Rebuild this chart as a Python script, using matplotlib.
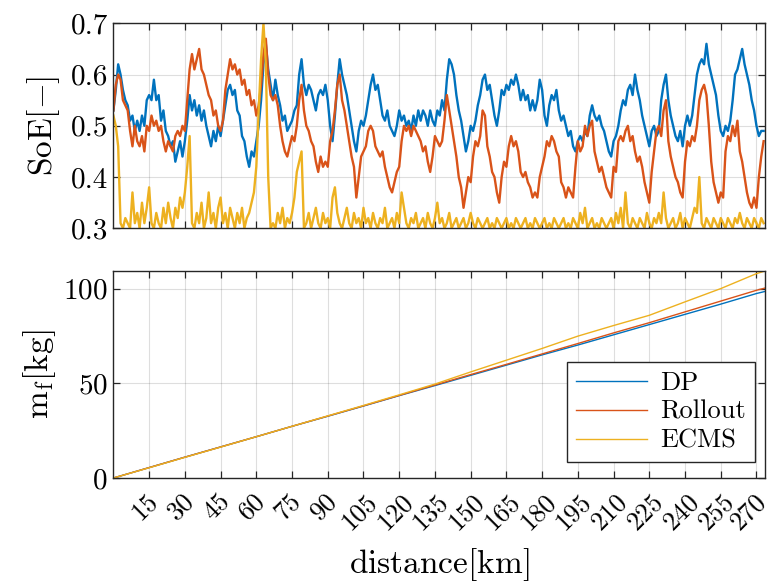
import matplotlib
matplotlib.use("Agg")
import matplotlib.pyplot as plt
import matplotlib.transforms as mtransforms
import numpy as np

plt.rcParams['font.family'] = 'cmr10'
plt.rcParams['mathtext.fontset'] = 'cm'
plt.rcParams['axes.formatter.use_mathtext'] = True

# distance grid for SoE traces (1 km steps)
dist_km = np.arange(0, 274)

soe_dp = [
    0.53, 0.57, 0.62, 0.60, 0.57, 0.55, 0.54, 0.51, 0.52, 0.49,
    0.51, 0.49, 0.52, 0.50, 0.55, 0.56, 0.55, 0.59, 0.55, 0.56,
    0.51, 0.53, 0.49, 0.48, 0.46, 0.47, 0.43, 0.45, 0.47, 0.44,
    0.47, 0.51, 0.56, 0.53, 0.55, 0.52, 0.54, 0.51, 0.53, 0.50,
    0.48, 0.46, 0.49, 0.47, 0.50, 0.48, 0.51, 0.54, 0.57, 0.58,
    0.56, 0.57, 0.53, 0.52, 0.48, 0.47, 0.44, 0.42, 0.45, 0.44,
    0.47, 0.50, 0.55, 0.62, 0.66, 0.61, 0.58, 0.55, 0.59, 0.56,
    0.54, 0.51, 0.52, 0.49, 0.50, 0.51, 0.53, 0.54, 0.60, 0.63,
    0.58, 0.56, 0.58, 0.57, 0.55, 0.53, 0.56, 0.57, 0.56, 0.58,
    0.55, 0.50, 0.47, 0.52, 0.58, 0.63, 0.60, 0.58, 0.56, 0.53,
    0.50, 0.47, 0.45, 0.49, 0.51, 0.50, 0.52, 0.55, 0.58, 0.60,
    0.57, 0.58, 0.55, 0.52, 0.51, 0.53, 0.50, 0.49, 0.48, 0.50,
    0.53, 0.51, 0.52, 0.50, 0.51, 0.49, 0.52, 0.50, 0.53, 0.51,
    0.53, 0.52, 0.50, 0.53, 0.51, 0.50, 0.53, 0.52, 0.55, 0.53,
    0.59, 0.63, 0.62, 0.60, 0.56, 0.53, 0.51, 0.48, 0.45, 0.47,
    0.50, 0.49, 0.51, 0.54, 0.56, 0.59, 0.60, 0.57, 0.58, 0.55,
    0.52, 0.50, 0.53, 0.57, 0.56, 0.58, 0.57, 0.59, 0.58, 0.60,
    0.58, 0.55, 0.57, 0.55, 0.56, 0.53, 0.55, 0.53, 0.55, 0.59,
    0.57, 0.52, 0.50, 0.54, 0.56, 0.55, 0.57, 0.53, 0.51, 0.52,
    0.50, 0.48, 0.49, 0.46, 0.45, 0.47, 0.48, 0.47, 0.49, 0.48,
    0.52, 0.54, 0.52, 0.51, 0.52, 0.50, 0.49, 0.47, 0.45, 0.44,
    0.47, 0.48, 0.50, 0.53, 0.55, 0.54, 0.57, 0.58, 0.56, 0.60,
    0.57, 0.55, 0.52, 0.50, 0.48, 0.46, 0.49, 0.50, 0.48, 0.49,
    0.55, 0.58, 0.60, 0.55, 0.52, 0.50, 0.48, 0.47, 0.49, 0.46,
    0.50, 0.52, 0.50, 0.52, 0.56, 0.60, 0.62, 0.63, 0.62, 0.66,
    0.62, 0.60, 0.58, 0.56, 0.52, 0.49, 0.48, 0.50, 0.49, 0.51,
    0.55, 0.60, 0.61, 0.63, 0.65, 0.62, 0.60, 0.58, 0.55, 0.53,
    0.50, 0.48, 0.49, 0.49,
]

soe_rollout = [
    0.53, 0.58, 0.60, 0.59, 0.55, 0.54, 0.53, 0.49, 0.46, 0.50,
    0.47, 0.46, 0.48, 0.45, 0.50, 0.49, 0.52, 0.50, 0.51, 0.49,
    0.50, 0.47, 0.45, 0.47, 0.46, 0.45, 0.48, 0.49, 0.48, 0.50,
    0.49, 0.55, 0.61, 0.64, 0.61, 0.63, 0.65, 0.61, 0.60, 0.58,
    0.56, 0.55, 0.52, 0.53, 0.50, 0.49, 0.51, 0.57, 0.60, 0.63,
    0.61, 0.62, 0.60, 0.61, 0.58, 0.59, 0.56, 0.57, 0.54, 0.55,
    0.52, 0.54, 0.58, 0.64, 0.67, 0.60, 0.56, 0.55, 0.56, 0.54,
    0.50, 0.47, 0.45, 0.44, 0.46, 0.48, 0.47, 0.50, 0.55, 0.58,
    0.53, 0.50, 0.49, 0.47, 0.46, 0.43, 0.41, 0.44, 0.42, 0.43,
    0.42, 0.47, 0.49, 0.53, 0.58, 0.60, 0.55, 0.53, 0.50, 0.47,
    0.44, 0.42, 0.36, 0.40, 0.44, 0.45, 0.46, 0.49, 0.50, 0.49,
    0.46, 0.45, 0.44, 0.45, 0.42, 0.40, 0.38, 0.37, 0.39, 0.41,
    0.42, 0.47, 0.50, 0.49, 0.50, 0.48, 0.50, 0.49, 0.48, 0.47,
    0.45, 0.46, 0.43, 0.41, 0.44, 0.48, 0.47, 0.46, 0.47, 0.51,
    0.56, 0.53, 0.50, 0.47, 0.44, 0.40, 0.38, 0.34, 0.37, 0.40,
    0.39, 0.44, 0.47, 0.46, 0.48, 0.53, 0.52, 0.46, 0.44, 0.41,
    0.40, 0.37, 0.35, 0.40, 0.43, 0.42, 0.46, 0.48, 0.46, 0.47,
    0.45, 0.41, 0.40, 0.41, 0.39, 0.38, 0.36, 0.37, 0.36, 0.40,
    0.42, 0.44, 0.47, 0.46, 0.48, 0.47, 0.45, 0.44, 0.39, 0.38,
    0.36, 0.38, 0.37, 0.36, 0.42, 0.47, 0.45, 0.46, 0.50, 0.48,
    0.50, 0.51, 0.45, 0.43, 0.41, 0.42, 0.40, 0.38, 0.37, 0.36,
    0.42, 0.41, 0.47, 0.48, 0.47, 0.49, 0.50, 0.47, 0.48, 0.45,
    0.43, 0.44, 0.42, 0.39, 0.37, 0.35, 0.41, 0.45, 0.49, 0.50,
    0.48, 0.53, 0.55, 0.47, 0.44, 0.42, 0.40, 0.39, 0.37, 0.36,
    0.43, 0.47, 0.46, 0.48, 0.47, 0.50, 0.55, 0.57, 0.58, 0.56,
    0.50, 0.43, 0.39, 0.37, 0.35, 0.37, 0.36, 0.45, 0.48, 0.47,
    0.50, 0.48, 0.51, 0.45, 0.43, 0.40, 0.37, 0.35, 0.34, 0.36,
    0.34, 0.40, 0.44, 0.47,
]

soe_ecms = [
    0.52, 0.50, 0.46, 0.31, 0.30, 0.32, 0.31, 0.30, 0.37, 0.31,
    0.33, 0.30, 0.35, 0.31, 0.34, 0.38, 0.31, 0.30, 0.33, 0.31,
    0.30, 0.34, 0.31, 0.35, 0.32, 0.30, 0.34, 0.32, 0.36, 0.34,
    0.37, 0.42, 0.48, 0.31, 0.30, 0.33, 0.31, 0.35, 0.30, 0.32,
    0.37, 0.31, 0.33, 0.30, 0.34, 0.36, 0.31, 0.33, 0.30, 0.34,
    0.32, 0.30, 0.33, 0.31, 0.34, 0.30, 0.32, 0.33, 0.35, 0.37,
    0.42, 0.53, 0.63, 0.70, 0.62, 0.40, 0.30, 0.31, 0.30, 0.33,
    0.31, 0.34, 0.30, 0.32, 0.31, 0.33, 0.36, 0.41, 0.43, 0.45,
    0.30, 0.31, 0.33, 0.30, 0.32, 0.34, 0.31, 0.30, 0.33, 0.31,
    0.32, 0.30, 0.36, 0.38, 0.33, 0.31, 0.30, 0.32, 0.34, 0.31,
    0.30, 0.33, 0.31, 0.32, 0.30, 0.34, 0.31, 0.32, 0.30, 0.33,
    0.31, 0.30, 0.32, 0.31, 0.34, 0.30, 0.31, 0.32, 0.30, 0.33,
    0.31, 0.37, 0.34, 0.31, 0.30, 0.32, 0.31, 0.33, 0.30, 0.31,
    0.32, 0.30, 0.33, 0.31, 0.30, 0.32, 0.35, 0.31, 0.32, 0.30,
    0.31, 0.33, 0.30, 0.31, 0.32, 0.30, 0.31, 0.32, 0.30, 0.31,
    0.33, 0.31, 0.30, 0.32, 0.31, 0.30, 0.31, 0.32, 0.30, 0.31,
    0.30, 0.32, 0.31, 0.30, 0.31, 0.32, 0.30, 0.31, 0.30, 0.32,
    0.31, 0.30, 0.31, 0.32, 0.30, 0.31, 0.30, 0.32, 0.31, 0.30,
    0.31, 0.32, 0.30, 0.31, 0.30, 0.32, 0.31, 0.30, 0.31, 0.32,
    0.30, 0.31, 0.30, 0.32, 0.31, 0.30, 0.33, 0.31, 0.34, 0.30,
    0.31, 0.32, 0.30, 0.31, 0.30, 0.32, 0.31, 0.30, 0.31, 0.32,
    0.30, 0.33, 0.31, 0.34, 0.30, 0.37, 0.31, 0.30, 0.32, 0.31,
    0.30, 0.32, 0.31, 0.30, 0.33, 0.31, 0.30, 0.32, 0.31, 0.33,
    0.31, 0.37, 0.32, 0.30, 0.31, 0.32, 0.30, 0.31, 0.33, 0.30,
    0.32, 0.31, 0.30, 0.32, 0.34, 0.33, 0.40, 0.31, 0.30, 0.32,
    0.31, 0.30, 0.32, 0.31, 0.30, 0.32, 0.31, 0.30, 0.32, 0.31,
    0.30, 0.32, 0.31, 0.33, 0.31, 0.30, 0.32, 0.31, 0.30, 0.32,
    0.31, 0.30, 0.32, 0.31,
]

# cumulative fuel mass, sampled every 15 km
fuel_km = [0, 15, 30, 45, 60, 75, 90, 105, 120, 135, 150, 165, 180,
           195, 210, 225, 240, 255, 270, 273.6]
fuel_dp = [0, 5.5, 11.0, 16.4, 21.8, 27.3, 32.6, 38.0, 43.5, 48.8, 54.2,
           59.6, 65.0, 70.2, 75.6, 81.0, 86.4, 91.8, 97.4, 98.5]
fuel_rollout = [0, 5.5, 11.0, 16.4, 21.8, 27.3, 32.7, 38.1, 43.6, 49.1, 54.6,
                60.0, 65.5, 71.0, 76.6, 82.0, 87.7, 93.4, 99.1, 100.3]
fuel_ecms = [0, 5.4, 10.9, 16.3, 21.8, 27.3, 32.8, 38.3, 43.9, 49.6, 56.0,
             62.2, 68.4, 74.9, 80.5, 85.9, 93.0, 100.0, 107.9, 109.3]

labels = ['DP', 'Rollout', 'ECMS']
colors = ['#0072BD', '#D95319', '#EDB120']
xticks = np.arange(15, 271, 15)

fig = plt.figure(figsize=(7.72, 5.83), dpi=100)
ax1 = fig.add_axes([0.1469, 0.6084, 0.8441, 0.3516])
ax2 = fig.add_axes([0.1469, 0.1801, 0.8441, 0.3551])

for y, c in zip([soe_dp, soe_rollout, soe_ecms], colors):
    ax1.plot(dist_km, y, color=c, lw=1.7)
for y, c, lab in zip([fuel_dp, fuel_rollout, fuel_ecms], colors, labels):
    ax2.plot(fuel_km, y, color=c, lw=1.0, label=lab)

for ax in (ax1, ax2):
    ax.set_xlim(0, 273.6)
    ax.set_xticks(xticks)
    ax.grid(True, color='#262626', alpha=0.15, lw=0.8)
    ax.tick_params(direction='in', top=True, right=True, length=5,
                   width=0.9, color='#262626', labelsize=21, pad=4)
    for s in ax.spines.values():
        s.set_color('#262626')
        s.set_linewidth(1.0)

ax1.set_ylim(0.3, 0.7)
ax1.set_yticks([0.3, 0.4, 0.5, 0.6, 0.7])
ax1.set_yticklabels(['0.3', '0.4', '0.5', '0.6', '0.7'])
ax1.tick_params(labelbottom=False)
ax1.set_ylabel(r'$\mathrm{SoE}[-]$', fontsize=24, labelpad=6)

ax2.set_ylim(0, 109.3)
ax2.set_yticks([0, 50, 100])
ax2.set_xticklabels([str(t) for t in xticks], rotation=45)
ax2.tick_params(axis='x', pad=8, labelsize=19)
xlabels = ax2.get_xticklabels()
for i, t in enumerate(xlabels):
    dx = -8 if i == len(xlabels) - 1 else -4
    shift = mtransforms.ScaledTranslation(dx / 100, 0, fig.dpi_scale_trans)
    t.set_transform(t.get_transform() + shift)
ax2.set_ylabel(r'$\mathrm{m_f}[\mathrm{kg}]$', fontsize=24, labelpad=4)
ax2.set_xlabel(r'$\mathrm{distance}[\mathrm{km}]$', fontsize=24, labelpad=9)

leg = ax2.legend(loc='lower right', bbox_to_anchor=(0.985, 0.077),
                 borderaxespad=0, fontsize=19, fancybox=False, framealpha=1,
                 edgecolor='#262626', handlelength=2.7, borderpad=0.35,
                 labelspacing=0.2, handletextpad=0.5)
leg.get_frame().set_linewidth(1.0)

fig.savefig('out.png', dpi=100)
